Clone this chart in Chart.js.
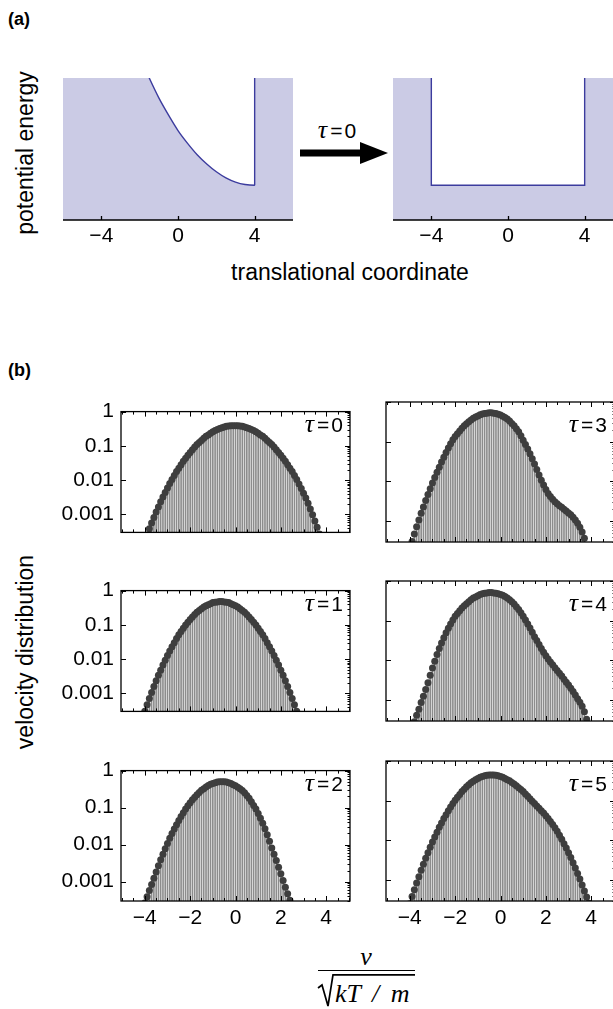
<!DOCTYPE html>
<html>
<head>
<meta charset="utf-8">
<script src="https://cdn.jsdelivr.net/npm/chart.js@4.4.0/dist/chart.umd.min.js"></script>
<style>
  html, body { margin: 0; padding: 0; background: #fff; }
  body { width: 613px; height: 1009px; position: relative; overflow: hidden;
         font-family: "Liberation Sans", Arial, sans-serif; color: #000; }
  canvas { position: absolute; }
  svg { position: absolute; left: 0; top: 0; }
  .txt { position: absolute; white-space: nowrap; line-height: 1; }
  .panel-tag { font-weight: bold; font-size: 18px; }
  .axis-title { font-size: 23px; transform: translate(-50%, -50%); }
  .axis-title.vert { transform: translate(-50%, -50%) rotate(-90deg); }
  .tau { font-size: 21px; line-height: 22px; }
  .tau i { font-family: "Liberation Serif", serif; font-size: 26px; }
  .tau .eq { margin: 0 2px 0 3px; }
  .math { font-family: "Liberation Serif", serif; font-style: italic; font-size: 26px; }
</style>
</head>
<body>

<div class="txt panel-tag" style="left:8px;top:10px">(a)</div>
<div class="txt panel-tag" style="left:8px;top:361px">(b)</div>
<div class="txt axis-title vert" style="left:25px;top:153px">potential energy</div>
<div class="txt axis-title" style="left:350px;top:272px">translational coordinate</div>
<div class="txt axis-title vert" style="left:25px;top:652px">velocity distribution</div>

<div class="txt tau" style="left:337px;top:130px;transform:translate(-50%,-50%)"><i>τ</i><span class="eq">=</span>0</div>

<div class="txt math" style="left:366px;top:957px;transform:translate(-50%,-50%)">v</div>
<div class="txt math" style="left:335px;top:994px;transform:translate(0,-50%);word-spacing:5px">kT / m</div>

<svg width="613" height="1009">
  <rect x="300" y="149.5" width="62" height="7" fill="#000"></rect>
  <polygon points="360,142 388,153 360,164" fill="#000"></polygon>
  <line x1="318" y1="970.5" x2="415" y2="970.5" stroke="#000" stroke-width="1.2"></line>
  <polyline points="318,988 322,985 328,1006 333,974.8 415,974.8" fill="none" stroke="#000" stroke-width="1.7"></polyline>
</svg>

<script>
// ---- panel (a): potential energy vs translational coordinate ----
const coordX = [-6, -5, -4, -3, -2, -1.5, -1, -0.5, 0, 0.5, 1, 1.5, 2, 2.5, 3, 3.5, 4, 4.3];
const harmonicU = [2.75, 2.27, 1.85, 1.47, 1.15, 1.0, 0.86, 0.74, 0.63, 0.54, 0.46, 0.395, 0.34, 0.297, 0.267, 0.25, 0.245, 0.245];
const wallX = [4, 4, 6];
const wallU = [0.245, 3, 3];
const boxX = [-6, -4, -4, 4, 4, 6];
const boxU = [3, 3, 0.245, 0.245, 3, 3];
const coordTicks = [-4, 0, 4];
const coordTickLabels = ['\u22124', '0', '4'];

// ---- panel (b): velocity distributions (log10 values) ----
const velocity = [
  -4.1, -4.0, -3.9, -3.8, -3.7, -3.6, -3.5, -3.4, -3.3, -3.2,
  -3.1, -3.0, -2.9, -2.8, -2.7, -2.6, -2.5, -2.4, -2.3, -2.2,
  -2.1, -2.0, -1.9, -1.8, -1.7, -1.6, -1.5, -1.4, -1.3, -1.2,
  -1.1, -1.0, -0.9, -0.8, -0.7, -0.6, -0.5, -0.4, -0.3, -0.2,
  -0.1, 0.0, 0.1, 0.2, 0.3, 0.4, 0.5, 0.6, 0.7, 0.8,
  0.9, 1.0, 1.1, 1.2, 1.3, 1.4, 1.5, 1.6, 1.7, 1.8,
  1.9, 2.0, 2.1, 2.2, 2.3, 2.4, 2.5, 2.6, 2.7, 2.8,
  2.9, 3.0, 3.1, 3.2, 3.3, 3.4, 3.5, 3.6, 3.7, 3.8,
  3.9
];
const tau0Log = [
  null, null, -3.60, -3.42, -3.25, -3.09, -2.93, -2.78, -2.63, -2.49,
  -2.36, -2.23, -2.10, -1.98, -1.86, -1.75, -1.65, -1.55, -1.45, -1.36,
  -1.27, -1.19, -1.11, -1.03, -0.96, -0.90, -0.84, -0.78, -0.72, -0.68,
  -0.63, -0.59, -0.55, -0.52, -0.49, -0.47, -0.45, -0.43, -0.42, -0.41,
  -0.41, -0.41, -0.41, -0.42, -0.43, -0.45, -0.47, -0.49, -0.52, -0.55,
  -0.59, -0.63, -0.68, -0.72, -0.78, -0.84, -0.90, -0.96, -1.03, -1.11,
  -1.19, -1.27, -1.36, -1.45, -1.55, -1.65, -1.75, -1.86, -1.98, -2.11,
  -2.24, -2.38, -2.52, -2.67, -2.84, -3.01, -3.19, -3.37, -3.57, null,
  null
];
const tau1Log = [
  null, -3.52, -3.33, -3.15, -2.97, -2.80, -2.63, -2.47, -2.32, -2.17,
  -2.03, -1.89, -1.76, -1.64, -1.52, -1.40, -1.29, -1.19, -1.10, -1.00,
  -0.92, -0.84, -0.77, -0.70, -0.63, -0.58, -0.53, -0.48, -0.44, -0.41,
  -0.38, -0.35, -0.34, -0.33, -0.32, -0.32, -0.33, -0.34, -0.35, -0.38,
  -0.41, -0.44, -0.48, -0.53, -0.58, -0.63, -0.70, -0.77, -0.84, -0.92,
  -1.00, -1.10, -1.19, -1.29, -1.40, -1.52, -1.64, -1.76, -1.89, -2.03,
  -2.17, -2.32, -2.47, -2.63, -2.80, -2.97, -3.15, -3.33, -3.52, null,
  null, null, null, null, null, null, null, null, null, null,
  null
];
const tau2Log = [
  null, -3.58, -3.41, -3.24, -3.08, -2.91, -2.74, -2.57, -2.41, -2.26,
  -2.11, -1.97, -1.83, -1.70, -1.58, -1.46, -1.35, -1.24, -1.14, -1.04,
  -0.95, -0.87, -0.79, -0.72, -0.65, -0.59, -0.53, -0.49, -0.44, -0.40,
  -0.37, -0.35, -0.33, -0.31, -0.30, -0.30, -0.30, -0.31, -0.33, -0.35,
  -0.38, -0.41, -0.45, -0.49, -0.54, -0.60, -0.67, -0.75, -0.84, -0.94,
  -1.04, -1.16, -1.29, -1.42, -1.57, -1.73, -1.91, -2.09, -2.26, -2.43,
  -2.61, -2.79, -2.97, -3.15, -3.33, -3.50, null, null, null, null,
  null, null, null, null, null, null, null, null, null, null,
  null
];
const tau3Log = [
  null, null, -3.51, -3.32, -3.14, -2.97, -2.80, -2.64, -2.48, -2.33,
  -2.18, -2.04, -1.90, -1.77, -1.64, -1.51, -1.39, -1.27, -1.16, -1.05,
  -0.95, -0.87, -0.80, -0.73, -0.66, -0.60, -0.55, -0.50, -0.45, -0.41,
  -0.38, -0.35, -0.32, -0.30, -0.29, -0.28, -0.27, -0.27, -0.28, -0.29,
  -0.31, -0.33, -0.36, -0.39, -0.43, -0.48, -0.54, -0.60, -0.67, -0.75,
  -0.85, -0.96, -1.07, -1.18, -1.30, -1.43, -1.56, -1.70, -1.84, -1.97,
  -2.09, -2.20, -2.30, -2.38, -2.45, -2.51, -2.56, -2.61, -2.65, -2.70,
  -2.74, -2.79, -2.84, -2.90, -2.97, -3.05, -3.15, -3.27, -3.43, null,
  null
];
const tau4Log = [
  null, null, null, -3.54, -3.38, -3.23, -3.06, -2.90, -2.73, -2.56,
  -2.37, -2.19, -2.02, -1.85, -1.70, -1.56, -1.43, -1.30, -1.19, -1.08,
  -0.98, -0.89, -0.82, -0.75, -0.68, -0.62, -0.57, -0.52, -0.47, -0.43,
  -0.40, -0.37, -0.34, -0.32, -0.31, -0.30, -0.29, -0.29, -0.30, -0.31,
  -0.32, -0.34, -0.36, -0.39, -0.43, -0.47, -0.52, -0.58, -0.65, -0.72,
  -0.80, -0.89, -0.98, -1.08, -1.18, -1.29, -1.40, -1.50, -1.60, -1.70,
  -1.79, -1.88, -1.96, -2.04, -2.11, -2.18, -2.25, -2.32, -2.39, -2.47,
  -2.55, -2.62, -2.70, -2.78, -2.87, -2.96, -3.05, -3.15, -3.29, -3.48,
  null
];
const tau5Log = [
  null, -3.59, -3.41, -3.24, -3.07, -2.91, -2.75, -2.60, -2.45, -2.31,
  -2.17, -2.04, -1.91, -1.79, -1.67, -1.56, -1.45, -1.35, -1.25, -1.16,
  -1.07, -0.99, -0.91, -0.84, -0.77, -0.71, -0.65, -0.60, -0.55, -0.51,
  -0.47, -0.44, -0.41, -0.39, -0.37, -0.36, -0.35, -0.35, -0.35, -0.36,
  -0.37, -0.39, -0.41, -0.44, -0.47, -0.50, -0.54, -0.58, -0.62, -0.67,
  -0.72, -0.77, -0.83, -0.89, -0.95, -1.01, -1.07, -1.13, -1.19, -1.25,
  -1.31, -1.38, -1.45, -1.52, -1.60, -1.68, -1.77, -1.87, -1.97, -2.08,
  -2.19, -2.31, -2.43, -2.56, -2.69, -2.83, -2.97, -3.12, -3.27, -3.42,
  -3.58
];
const panelTau = ['0', '1', '2', '3', '4', '5'];
const panelSeries = [tau0Log, tau1Log, tau2Log, tau3Log, tau4Log, tau5Log];
const xTickValues = [-4, -2, 0, 2, 4];
const xTickLabels = ['\u22124', '\u22122', '0', '2', '4'];
const yTickValues = [0.001, 0.01, 0.1, 1];
const yTickLabels = ['0.001', '0.01', '0.1', '1'];

// layout
const rowTop = [402, 581, 761];
const FILL = '#cbcbe5';
const EDGE = '#3c3c9e';
const TICK_FONT = { family: 'Liberation Sans', size: 21 };

const baseOptions = {
    responsive: false,
    animation: false,
    devicePixelRatio: 1,
    events: [],
    plugins: { legend: { display: false }, tooltip: { enabled: false } }
};

const potentialAxis = {
    id: 'potentialAxis',
    afterDraw(chart) {
        const { ctx, chartArea: a, scales: { x } } = chart;
        ctx.save();
        ctx.strokeStyle = '#000';
        ctx.lineWidth = 1.3;
        ctx.beginPath();
        ctx.moveTo(a.left, a.bottom);
        ctx.lineTo(a.right, a.bottom);
        coordTicks.forEach(v => {
            const px = Math.round(x.getPixelForValue(v)) + 0.5;
            ctx.moveTo(px, a.bottom);
            ctx.lineTo(px, a.bottom - 4);
        });
        ctx.stroke();
        ctx.restore();
    }
};

function makeCanvas(left, top, w, h) {
    const cv = document.createElement('canvas');
    cv.width = w;
    cv.height = h;
    cv.style.left = left + 'px';
    cv.style.top = top + 'px';
    document.body.appendChild(cv);
    return cv;
}

function toPoints(xs, ys) {
    return xs.map((x, i) => ({ x, y: ys[i] }));
}

function makePotentialPanel(left, datasets) {
    const cv = makeCanvas(left, 70, 270, 180);
    return new Chart(cv, {
        type: 'line',
        data: { datasets },
        options: {
            ...baseOptions,
            layout: { padding: { left: 23, right: 17, top: 8, bottom: 0 } },
            scales: {
                x: {
                    type: 'linear', min: -6, max: 6,
                    grid: { display: false, drawTicks: false },
                    border: { display: false },
                    ticks: { padding: 4, color: '#000', font: TICK_FONT, maxRotation: 0,
                             callback: (v, i) => coordTickLabels[i] },
                    afterBuildTicks: s => { s.ticks = coordTicks.map(v => ({ value: v })); },
                    afterFit: s => { s.height = 30; }
                },
                y: { display: false, min: 0, max: 1 }
            }
        },
        plugins: [potentialAxis]
    });
}

function areaSet(points, extra) {
    return Object.assign({
        data: points,
        fill: 'start',
        backgroundColor: FILL,
        borderColor: EDGE,
        borderWidth: 1.4,
        pointRadius: 0,
        tension: 0,
        clip: 0
    }, extra || {});
}

// wall drawn last so it covers the end of the harmonic floor
makePotentialPanel(40, [
    areaSet(toPoints(coordX, harmonicU), { cubicInterpolationMode: 'monotone', order: 1 }),
    areaSet(toPoints(wallX, wallU), { order: 0 })
]);
makePotentialPanel(370, [
    areaSet(toPoints(boxX, boxU))
]);

// frame with inward ticks for the velocity panels
const velocityFrame = {
    id: 'velocityFrame',
    afterDatasetsDraw(chart) {
        const { ctx, chartArea: a, scales: { x, y } } = chart;
        ctx.save();
        ctx.strokeStyle = '#000';
        ctx.lineWidth = 1;
        ctx.beginPath();
        for (let v = -5; v <= 5; v += 0.5) {
            const px = Math.round(x.getPixelForValue(v)) + 0.5;
            const len = (Math.abs(v % 2) < 1e-9) ? 5 : 3;
            ctx.moveTo(px, a.bottom); ctx.lineTo(px, a.bottom - len);
            ctx.moveTo(px, a.top); ctx.lineTo(px, a.top + len);
        }
        for (let k = -4; k <= 0; k++) {
            const dec = Math.pow(10, k);
            if (dec >= y.min) {
                const py = Math.round(y.getPixelForValue(dec)) + 0.5;
                ctx.moveTo(a.left, py); ctx.lineTo(a.left + 5, py);
                ctx.moveTo(a.right, py); ctx.lineTo(a.right - 5, py);
            }
            for (let m = 2; m <= 9 && k < 0; m++) {
                const val = m * dec;
                if (val < y.min || val > y.max) continue;
                const py = Math.round(y.getPixelForValue(val)) + 0.5;
                ctx.moveTo(a.right, py); ctx.lineTo(a.right - 2.5, py);
            }
        }
        ctx.stroke();
        ctx.lineWidth = 1.3;
        ctx.strokeRect(a.left, a.top, a.right - a.left, a.bottom - a.top);
        ctx.restore();
    }
};

function makeVelocityPanel(i) {
    const col = Math.floor(i / 3);
    const row = i % 3;
    const isLeft = col === 0;
    const isBottom = row === 2;
    const w = isLeft ? 310 : 249;
    const h = isBottom ? 183 : 160;
    const cv = makeCanvas(isLeft ? 50 : 376, rowTop[row] - 10, w, h);
    const logs = panelSeries[i];
    const points = velocity
        .map((v, k) => (logs[k] === null ? null : { x: v, y: Math.pow(10, logs[k]) }))
        .filter(Boolean);

    new Chart(cv, {
        type: 'bar',
        data: {
            datasets: [
                {
                    type: 'scatter', data: points, order: 0,
                    pointRadius: 3.5, pointHoverRadius: 3.5,
                    backgroundColor: '#3e3e3e', pointBackgroundColor: '#3e3e3e',
                    borderWidth: 0, pointBorderWidth: 0, clip: 0
                },
                {
                    type: 'bar', data: points, order: 1,
                    barThickness: 1, backgroundColor: '#8c8c8c',
                    borderWidth: 0, clip: 0
                }
            ]
        },
        options: {
            ...baseOptions,
            layout: { padding: { left: isLeft ? 0 : 10, right: 10, top: 10, bottom: isBottom ? 1 : 8 } },
            scales: {
                x: {
                    type: 'linear', min: -5.05, max: 5.05, offset: false,
                    grid: { display: false, drawTicks: false, offset: false },
                    border: { display: false },
                    ticks: { display: isBottom, padding: 5, color: '#000', font: TICK_FONT, maxRotation: 0,
                             callback: (v, k) => xTickLabels[k] },
                    afterBuildTicks: s => { s.ticks = xTickValues.map(v => ({ value: v })); },
                    afterFit: s => { s.height = isBottom ? 32 : 2; }
                },
                y: {
                    type: 'logarithmic', min: 0.0003, max: 1,
                    grid: { display: false, drawTicks: false },
                    border: { display: false },
                    ticks: { display: isLeft, padding: 7, color: '#000', font: TICK_FONT,
                             callback: (v, k) => yTickLabels[k] },
                    afterBuildTicks: s => { s.ticks = yTickValues.map(v => ({ value: v })); },
                    afterFit: s => { s.width = isLeft ? 71 : 0; }
                }
            }
        },
        plugins: [velocityFrame]
    });

    // tau label in the upper right corner
    const lab = document.createElement('div');
    lab.className = 'txt tau';
    lab.innerHTML = '<i>\u03c4</i><span class="eq">=</span>' + panelTau[i];
    lab.style.left = (isLeft ? 343 : 607) + 'px';
    lab.style.top = (rowTop[row] + 22) + 'px';
    lab.style.transform = 'translate(-100%, -50%)';
    document.body.appendChild(lab);
}

panelSeries.forEach((_, i) => makeVelocityPanel(i));
</script>
</body>
</html>
